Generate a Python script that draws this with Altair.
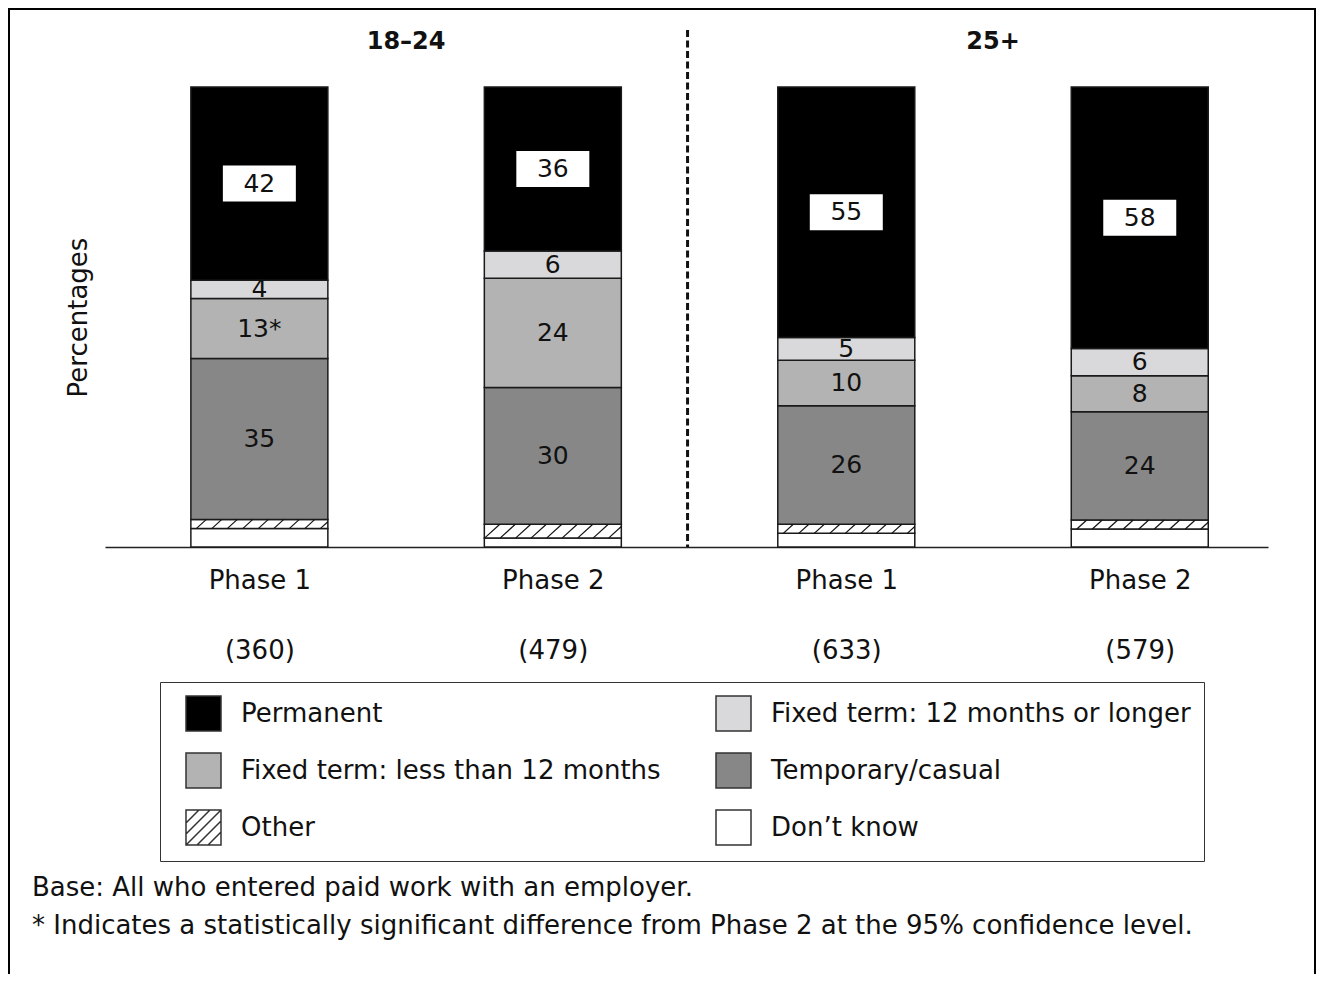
import json
import altair as alt
import pandas as pd

# ---------------- data ----------------
groups = ["18–24", "18–24", "25+", "25+"]
phases = ["Phase 1", "Phase 2", "Phase 1", "Phase 2"]
bases = ["(360)", "(479)", "(633)", "(579)"]

categories = [
    "Permanent",
    "Fixed term: 12 months or longer",
    "Fixed term: less than 12 months",
    "Temporary/casual",
    "Other",
    "Don’t know",
]
permanent = [42, 36, 55, 58]
fixed_12_plus = [4, 6, 5, 6]
fixed_under_12 = [13, 24, 10, 8]
temporary = [35, 30, 26, 24]
other = [2, 3, 2, 2]
dont_know = [4, 2, 3, 4]
fixed_under_12_sig = ["*", "", "", ""]

footnote_lines = [
    "Base: All who entered paid work with an employer.",
    "* Indicates a statistically significant difference from Phase 2 at the 95% confidence level.",
]

# ---------------- style / layout ----------------
FONT = "DejaVu Sans"
TEXT = "#111111"
colors = ["#000000", "#d9d9db", "#b3b3b3", "#878787", "#ffffff", "#ffffff"]
W, H = 1308, 966
X_DOMAIN = [-0.526, 3.437]
X_RANGE = [97, 1260]
Y_DOMAIN = [0, 1]
Y_RANGE = [539, 79]
BAR_HALF = 0.2334
PX_X = (X_RANGE[1] - X_RANGE[0]) / (X_DOMAIN[1] - X_DOMAIN[0])
PX_Y = (Y_RANGE[0] - Y_RANGE[1]) / (Y_DOMAIN[1] - Y_DOMAIN[0])

series = {
    categories[0]: permanent,
    categories[1]: fixed_12_plus,
    categories[2]: fixed_under_12,
    categories[3]: temporary,
    categories[4]: other,
    categories[5]: dont_know,
}
color_of = dict(zip(categories, colors))
labelled = categories[:4]

# ---------------- build tables ----------------
rows = []
for i in range(len(phases)):
    total = sum(series[c][i] for c in categories)
    acc = 0.0
    for c in categories[::-1]:
        v = series[c][i]
        y0 = acc / total
        acc += v
        y1 = acc / total
        label = ""
        if c in labelled:
            label = str(v) + (fixed_under_12_sig[i] if c == categories[2] else "")
        rows.append(dict(pos=i, category=c, value=v, y0=y0, y1=y1,
                         ymid=(y0 + y1) / 2, x0=i - BAR_HALF, x1=i + BAR_HALF,
                         label=label))
seg = pd.DataFrame(rows)

# hatch lines for the "Other" segments
hatch = []
SPACING = 15.5 / PX_X
for _, r in seg[seg.category == "Other"].iterrows():
    h = r.y1 - r.y0
    run = h * PX_Y * 1.1 / PX_X
    xs = r.x0 - run
    while xs < r.x1:
        xa, ya, xb, yb = xs, r.y0, xs + run, r.y1
        if xa < r.x0:
            ya = r.y0 + (r.x0 - xa) / run * h
            xa = r.x0
        if xb > r.x1:
            yb = r.y0 + (r.x1 - xs) / run * h
            xb = r.x1
        if xb > xa + 1e-6:
            hatch.append(dict(xa=xa, ya=ya, xb=xb, yb=yb))
        xs += SPACING
hatch = pd.DataFrame(hatch)

grp = pd.DataFrame(dict(group=groups, pos=range(len(groups)))).groupby("group", sort=False)["pos"].mean().reset_index()
divider = pd.DataFrame(dict(x=[(grp.pos.iloc[0] + grp.pos.iloc[1]) / 2]))

# legend: 2 columns, filled row by row (Vega fills column by column)
N_COLS, N_ROWS = 2, 3
legend_order = [categories[r * N_COLS + c] for c in range(N_COLS) for r in range(N_ROWS)]

SQUARE = "M-1,-1H1V1H-1Z"
HATCH = SQUARE + " M-1,-0.26L-0.26,-1 M-1,0.37L0.37,-1 M-1,1L1,-1 M-0.37,1L1,-0.37 M0.26,1L1,0.26"

# ---------------- scales / axes ----------------
x_scale = alt.Scale(domain=X_DOMAIN, range=X_RANGE, nice=False, zero=False)
y_scale = alt.Scale(domain=Y_DOMAIN, range=Y_RANGE, nice=False, zero=False)
fill_scale = alt.Scale(domain=legend_order, range=[color_of[c] for c in legend_order])
shape_scale = alt.Scale(domain=legend_order,
                        range=[HATCH if c == "Other" else SQUARE for c in legend_order])
stroke_scale = alt.Scale(domain=legend_order, range=["#333333"] * len(legend_order))

label_lines = [[p, b] for p, b in zip(phases, bases)]
x_axis = alt.Axis(
    values=list(range(len(phases))), title=None, grid=False, ticks=False, tickSize=0,
    labelExpr=json.dumps(label_lines) + "[datum.value]",
    labelFont=FONT, labelFontSize=26, labelColor=TEXT, labelPadding=33,
    labelBaseline="middle", labelLineHeight=70, labelOverlap=False, labelFlush=False,
    domainColor="#222222", domainWidth=1.5, offset=Y_RANGE[0] - H, orient="bottom",
)
y_axis = alt.Axis(
    title="Percentages", labels=False, ticks=False, domain=False, grid=False,
    titleX=70, titleY=(Y_RANGE[0] + Y_RANGE[1]) / 2, titleAngle=270,
    titleAlign="center", titleBaseline="middle", titleFont=FONT,
    titleFontSize=26, titleFontWeight="normal", titleColor=TEXT,
)
legend = alt.Legend(
    title=None, orient="none", legendX=152, legendY=674, columns=N_COLS,
    symbolSize=1225, symbolStrokeColor="#333333", symbolStrokeWidth=1.5,
    symbolOpacity=1, symbolOffset=12,
    labelFont=FONT, labelFontSize=26, labelColor=TEXT, labelOffset=19, labelLimit=0,
    rowPadding=16, columnPadding=42, padding=13,
    fillColor="white", strokeColor="#333333",
)

def X(field):
    return alt.X(field, scale=x_scale, axis=x_axis)

def Y(field):
    return alt.Y(field, scale=y_scale, axis=y_axis)

base = alt.Chart(seg)

bars = base.mark_rect(stroke="#1a1a1a", strokeWidth=1.5).encode(
    x=X("x0:Q"), x2="x1:Q", y=Y("y0:Q"), y2="y1:Q",
    fill=alt.Fill("category:N", scale=fill_scale, legend=legend),
)

legend_points = base.mark_point(filled=True, opacity=0, size=1).encode(
    x=X("pos:Q"), y=Y("ymid:Q"),
    fill=alt.Fill("category:N", scale=fill_scale, legend=legend),
    shape=alt.Shape("category:N", scale=shape_scale, legend=legend),
    stroke=alt.Stroke("category:N", scale=stroke_scale, legend=legend),
)

hatch_lines = alt.Chart(hatch).mark_rule(color="#111111", strokeWidth=1.2).encode(
    x=X("xa:Q"), x2="xb:Q", y=Y("ya:Q"), y2="yb:Q",
)

perm = base.transform_filter(alt.datum.category == categories[0])
boxes = perm.mark_point(shape="M-1,-0.493H1V0.493H-1Z", size=73 * 73, filled=True,
                        fill="white", opacity=1, strokeWidth=0).encode(
    x=X("pos:Q"), y=Y("ymid:Q"),
)
labels = base.transform_filter(alt.datum.label != "").mark_text(
    font=FONT, fontSize=25, color=TEXT, baseline="middle", align="center"
).encode(x=X("pos:Q"), y=Y("ymid:Q"), text="label:N")

headers = alt.Chart(grp).mark_text(
    font=FONT, fontSize=24, fontWeight="bold", color=TEXT, baseline="middle"
).encode(x=X("pos:Q"), y=alt.value(34), text="group:N")

div_rule = alt.Chart(divider).mark_rule(
    color="#111111", strokeWidth=3, strokeDash=[7, 3.5], xOffset=-12
).encode(x=X("x:Q"), y=alt.value(22), y2=alt.value(Y_RANGE[0]))

foot = alt.Chart(pd.DataFrame(dict(t=["\n".join(footnote_lines)]))).mark_text(
    font=FONT, fontSize=26, color=TEXT, align="left", baseline="middle",
    lineBreak="\n", lineHeight=38,
).encode(x=alt.value(24), y=alt.value(880), text="t:N")

border = alt.Chart(pd.DataFrame(dict(a=[0]))).mark_rect(
    fillOpacity=0, stroke="#000000", strokeWidth=3
).encode(x=alt.value(0.5), x2=alt.value(W - 0.5), y=alt.value(0.5), y2=alt.value(H + 300))

chart = alt.layer(
    bars, legend_points, hatch_lines, boxes, labels, headers, div_rule, foot, border
).properties(
    width=W, height=H, autosize=alt.AutoSizeParams(type="none"), padding=0,
).configure_view(stroke=None).configure(font=FONT, background="white")

chart.save("out.html", embed_options={"renderer": "svg", "actions": False})
